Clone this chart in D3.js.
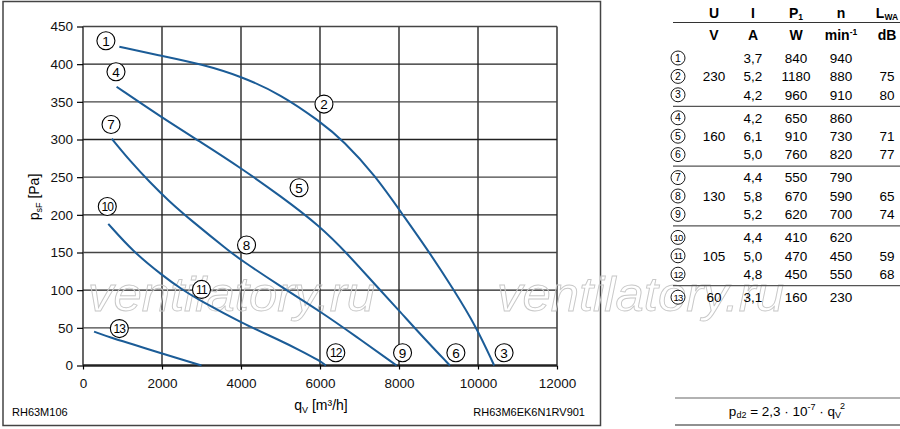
<!DOCTYPE html>
<html>
<head>
<meta charset="utf-8">
<script src="https://cdn.jsdelivr.net/npm/d3@7.9.0/dist/d3.min.js"></script>
<style>
  html, body { margin: 0; padding: 0; background: #fff; }
  svg { display: block; font-family: "Liberation Sans", Arial, sans-serif; }
  .tick text { font-size: 13.5px; fill: #111; }
</style>
</head>
<body>
<svg id="chart" width="900" height="429"></svg>
<script>
// fan curves, one per supply voltage  [qV m3/h, psF Pa]
const curve230 = [[920,423],[2000,411],[3000,400],[4000,384],[5000,360],[6000,324],[6600,298],[7400,252],[8070,202],[8760,151],[9380,101],[9950,52],[10410,0]];
const curve160 = [[850,370],[2000,329],[3000,296],[4000,262],[5000,225],[6000,185],[6700,148],[7400,107],[8000,73],[8600,38],[9290,0]];
const curve130 = [[730,301],[1200,271],[1700,243],[2160,219],[2750,192],[3720,151],[4000,140],[5000,105],[6000,72],[6900,39],[7940,0]];
const curve105 = [[640,188],[1270,151],[2000,120],[2500,101],[3000,85],[4000,57],[5000,33],[5500,20],[6000,6],[6150,0]];
const curve60  = [[280,45],[700,37],[1270,28],[2000,16],[2500,8],[3000,0]];
const curves = [curve230, curve160, curve130, curve105, curve60];

// operating point markers
const pointNo = [1,2,3,4,5,6,7,8,9,10,11,12,13];
const pointQ  = [580,6100,10660,835,5470,9440,710,4140,8090,615,3000,6400,920];
const pointP  = [431,347,17,390,236,17,320,160,17,211,101,17,49];

const xTicks = [0,2000,4000,6000,8000,10000,12000];
const yTicks = [0,50,100,150,200,250,300,350,400,450];

// table
const tabU  = ["","230","","","160","","","130","","","105","","60"];
const tabI  = ["3,7","5,2","4,2","4,2","6,1","5,0","4,4","5,8","5,2","4,4","5,0","4,8","3,1"];
const tabP1 = ["840","1180","960","650","910","760","550","670","620","410","470","450","160"];
const tabN  = ["940","880","910","860","730","820","790","590","700","620","450","550","230"];
const tabL  = ["","75","80","","71","77","","65","74","","59","68",""];

const svg = d3.select("#chart");

const x = d3.scaleLinear().domain([0, 12000]).range([83, 557]);
const y = d3.scaleLinear().domain([0, 450]).range([365.5, 26.5]);

// outer frame of the diagram
svg.append("rect")
  .attr("x", 3).attr("y", 1.5).attr("width", 597.5).attr("height", 424)
  .attr("fill", "none").attr("stroke", "#444").attr("stroke-width", 1.5);

// grid
svg.append("g").selectAll("line").data(xTicks).join("line")
  .attr("x1", d => x(d)).attr("x2", d => x(d))
  .attr("y1", y(450)).attr("y2", y(0))
  .attr("stroke", "#000").attr("stroke-width", 1.2);
svg.append("g").selectAll("line").data(yTicks).join("line")
  .attr("x1", x(0)).attr("x2", x(12000))
  .attr("y1", d => y(d)).attr("y2", d => y(d))
  .attr("stroke", d => d % 100 === 0 ? "#222" : "#444")
  .attr("stroke-width", d => d === 0 ? 2.6 : 1.4);

// axes
const gx = svg.append("g").attr("transform", `translate(0,${y(0)})`)
  .call(d3.axisBottom(x).tickValues(xTicks).tickFormat(d3.format("d")).tickSize(4).tickPadding(9));
const gy = svg.append("g").attr("transform", `translate(${x(0)},0)`)
  .call(d3.axisLeft(y).tickValues(yTicks).tickSize(6).tickPadding(4));
gx.select(".domain").remove();
gy.select(".domain").remove();
svg.selectAll(".tick line").attr("stroke", "#000").attr("stroke-width", 1.2);
svg.selectAll(".tick text").attr("font-family", "Liberation Sans, Arial, sans-serif");

// watermark
[88, 497].forEach(wx => {
  svg.append("text")
    .attr("x", wx).attr("y", 311)
    .attr("font-size", 48).attr("font-style", "italic")
    .attr("textLength", 287).attr("lengthAdjust", "spacingAndGlyphs")
    .attr("fill", "none").attr("stroke", "#c8c8c8").attr("stroke-width", 0.9)
    .text("ventilatory.ru");
});

// curves
const line = d3.line().x(d => x(d[0])).y(d => y(d[1])).curve(d3.curveBasis);
svg.append("g").selectAll("path").data(curves).join("path")
  .attr("d", line)
  .attr("fill", "none").attr("stroke", "#1b5c97").attr("stroke-width", 2);

// numbered markers
const mk = svg.append("g").selectAll("g").data(pointNo).join("g")
  .attr("transform", (d, i) => `translate(${x(pointQ[i])},${y(pointP[i])})`);
mk.append("circle").attr("r", 9).attr("fill", "#fff").attr("stroke", "#000").attr("stroke-width", 1.1);
mk.append("text").attr("text-anchor", "middle").attr("dy", "0.36em")
  .attr("font-size", d => d > 9 ? 12 : 13.5).attr("letter-spacing", d => d > 9 ? -0.8 : 0)
  .text(d => d);

// axis titles
const yl = svg.append("text")
  .attr("transform", "translate(39,197) rotate(-90)")
  .attr("text-anchor", "middle").attr("font-size", 14);
yl.append("tspan").text("p");
yl.append("tspan").attr("font-size", 9).attr("dy", 3).text("sF");
yl.append("tspan").attr("dy", -3).text(" [Pa]");

const xl = svg.append("text").attr("x", 321).attr("y", 410)
  .attr("text-anchor", "middle").attr("font-size", 14);
xl.append("tspan").text("q");
xl.append("tspan").attr("font-size", 9).attr("dy", 3).text("V");
xl.append("tspan").attr("dy", -3).text(" [m³/h]");

svg.append("text").attr("x", 12).attr("y", 416).attr("font-size", 11).text("RH63M106");
svg.append("text").attr("x", 585).attr("y", 416).attr("font-size", 11)
  .attr("text-anchor", "end").text("RH63M6EK6N1RV901");

// data table on the right
const colX = [714, 753, 796, 841, 887];
const hdr1 = svg.append("g").attr("font-weight", "bold").attr("font-size", 14).attr("text-anchor", "middle");
hdr1.append("text").attr("x", colX[0]).attr("y", 18).text("U");
hdr1.append("text").attr("x", colX[1]).attr("y", 18).text("I");
const p1 = hdr1.append("text").attr("x", colX[2]).attr("y", 18);
p1.append("tspan").text("P");
p1.append("tspan").attr("font-size", 8.5).attr("dy", 2).text("1");
hdr1.append("text").attr("x", colX[3]).attr("y", 18).text("n");
const lwa = hdr1.append("text").attr("x", colX[4]).attr("y", 18);
lwa.append("tspan").text("L");
lwa.append("tspan").attr("font-size", 8.5).attr("dy", 2).text("WA");

const hdr2 = svg.append("g").attr("font-weight", "bold").attr("font-size", 14).attr("text-anchor", "middle");
hdr2.append("text").attr("x", colX[0]).attr("y", 40).text("V");
hdr2.append("text").attr("x", colX[1]).attr("y", 40).text("A");
hdr2.append("text").attr("x", colX[2]).attr("y", 40).text("W");
const mn = hdr2.append("text").attr("x", colX[3]).attr("y", 40);
mn.append("tspan").text("min");
mn.append("tspan").attr("font-size", 8.5).attr("dy", -5).text("-1");
hdr2.append("text").attr("x", colX[4]).attr("y", 40).text("dB");

svg.append("line").attr("x1", 673).attr("x2", 900).attr("y1", 22.5).attr("y2", 22.5)
  .attr("stroke", "#333").attr("stroke-width", 1.2);

const rowY = i => 58 + i * 18.4 + Math.floor(i / 3) * 4.6;
[2, 5, 8, 11].forEach(i => {
  svg.append("line").attr("x1", 673).attr("x2", 900)
    .attr("y1", (rowY(i) + rowY(i + 1)) / 2).attr("y2", (rowY(i) + rowY(i + 1)) / 2)
    .attr("stroke", "#555").attr("stroke-width", 1.2);
});

const rows = svg.append("g").selectAll("g").data(pointNo).join("g")
  .attr("transform", (d, i) => `translate(0,${rowY(i)})`)
  .attr("font-size", 13.5).attr("text-anchor", "middle");
rows.append("circle").attr("cx", 678).attr("r", 7)
  .attr("fill", "#fff").attr("stroke", "#000").attr("stroke-width", 0.9);
rows.append("text").attr("x", 678).attr("dy", "0.35em")
  .attr("font-size", d => d > 9 ? 9.5 : 10.5).attr("letter-spacing", d => d > 9 ? -0.7 : 0).text(d => d);
[tabU, tabI, tabP1, tabN, tabL].forEach((col, c) => {
  rows.append("text").attr("x", colX[c]).attr("dy", "0.36em").text((d, i) => col[i]);
});

// dynamic pressure formula
svg.append("line").attr("x1", 675).attr("x2", 900).attr("y1", 398).attr("y2", 398)
  .attr("stroke", "#666").attr("stroke-width", 1.2);
svg.append("line").attr("x1", 675).attr("x2", 900).attr("y1", 425).attr("y2", 425)
  .attr("stroke", "#222").attr("stroke-width", 1.2);
const f = svg.append("text").attr("x", 787).attr("y", 416).attr("font-size", 13.5).attr("text-anchor", "middle");
f.append("tspan").text("p");
f.append("tspan").attr("font-size", 9).attr("dy", 2).text("d2");
f.append("tspan").attr("dy", -2).text(" = 2,3 · 10");
f.append("tspan").attr("font-size", 9).attr("dy", -6).text("-7");
f.append("tspan").attr("dy", 6).text(" · q");
f.append("tspan").attr("font-size", 9).attr("dy", 2).text("V");
f.append("tspan").attr("font-size", 9).attr("dy", -9).attr("dx", -1).text("2");
</script>
</body>
</html>
